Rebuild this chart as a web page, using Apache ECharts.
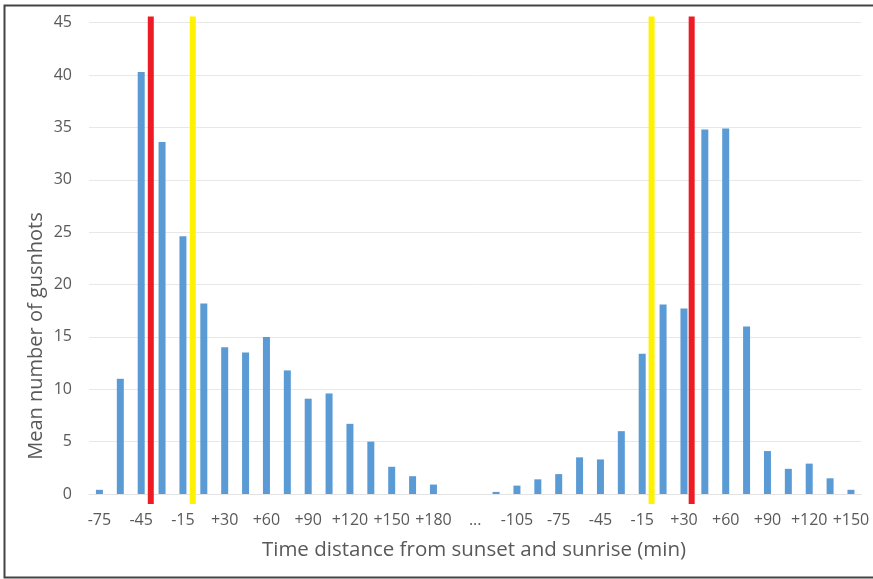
<!DOCTYPE html>
<html>
<head>
<meta charset="utf-8">
<script src="https://cdn.jsdelivr.net/npm/echarts@6/dist/echarts.min.js"></script>
<style>
    html, body {margin:0;padding:0;background:#fff;}
    #chart {width:873px;height:579px;}
</style>
</head>
<body>
<div id="chart"></div>
<script>
    // categories (15 min steps), only every other one is labelled
    var categories = ['-75','-60','-45','-30','-15','0','+30','+45','+60','+75','+90','+105','+120','+135','+150','+165','+180','+195','...',
                      '-120','-105','-90','-75','-60','-45','-30','-15','0','+30','+45','+60','+75','+90','+105','+120','+135','+150'];
    var gunshots = [0.4, 11.0, 40.3, 33.6, 24.6, 18.2, 14.0, 13.5, 15.0, 11.8, 9.1, 9.6, 6.7, 5.0, 2.6, 1.7, 0.9, 0, 0,
                    0.2, 0.8, 1.4, 1.9, 3.5, 3.3, 6.0, 13.4, 18.1, 17.7, 34.8, 34.9, 16.0, 4.1, 2.4, 2.9, 1.5, 0.4];
    var yTicks = [0, 5, 10, 15, 20, 25, 30, 35, 40, 45];
    // marker lines, position in category index units
    var redLines = [2.46, 28.37];
    var yellowLines = [4.47, 26.45];
    var lineSpan = [-0.95, 45.6];

    var chart = echarts.init(document.getElementById('chart'));
    var font = '"Open Sans", "Liberation Sans", sans-serif';
    var grey = '#595959';

    var markerSeries = function (xs, color) {
        return xs.map(function (x) {
            return {
                type: 'line',
                xAxisIndex: 1,
                yAxisIndex: 0,
                data: [[x, lineSpan[0]], [x, lineSpan[1]]],
                symbol: 'none',
                clip: false,
                silent: true,
                z: 5,
                lineStyle: {color: color, width: 6}
            };
        });
    };

    var option = {
        animation: false,
        backgroundColor: '#fff',
        grid: {left: 89, right: 11.6, top: 22.7, bottom: 85},
        xAxis: [{
            type: 'category',
            data: categories,
            axisLine: {show: true, lineStyle: {color: '#e3e3e3', width: 1}},
            axisTick: {show: false},
            axisLabel: {interval: 1, margin: 18, color: grey, fontSize: 16, fontFamily: font}
        }, {
            type: 'value',
            min: -0.5,
            max: categories.length - 0.5,
            show: false
        }],
        yAxis: {
            type: 'value',
            min: yTicks[0],
            max: yTicks[yTicks.length - 1],
            interval: 5,
            axisLine: {show: false},
            axisTick: {show: false},
            splitLine: {lineStyle: {color: '#e8e8e8', width: 1}},
            axisLabel: {margin: 17, color: grey, fontSize: 16, fontFamily: font}
        },
        graphic: [{
            type: 'text',
            x: 474,
            y: 550,
            style: {text: 'Time distance from sunset and sunrise (min)', fill: grey, font: '20.5px ' + font, align: 'center', verticalAlign: 'middle'}
        }, {
            type: 'text',
            x: 36,
            y: 336,
            rotation: Math.PI / 2,
            style: {text: 'Mean number of gusnhots', fill: grey, font: '20px ' + font, align: 'center', verticalAlign: 'middle'}
        }, {
            type: 'rect',
            shape: {x: 4.5, y: 5.5, width: 900, height: 572},
            style: {fill: 'none', stroke: '#444', lineWidth: 2},
            silent: true
        }],
        series: [{
            type: 'bar',
            data: gunshots,
            barWidth: 7,
            itemStyle: {color: '#5b9bd5'}
        }].concat(markerSeries(redLines, '#ed1c24'), markerSeries(yellowLines, '#fff200'))
    };
    chart.setOption(option);
</script>
</body>
</html>
